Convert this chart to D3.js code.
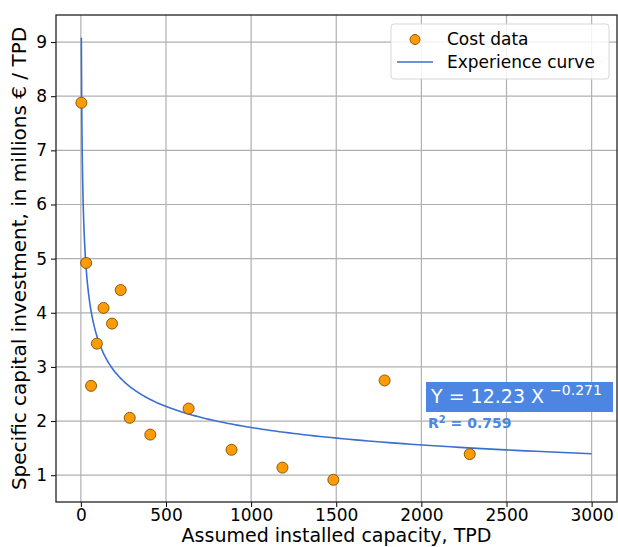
<!DOCTYPE html>
<html>
<head>
<meta charset="utf-8">
<script src="https://cdn.jsdelivr.net/npm/d3@7"></script>
<style>
  body { margin: 0; background: #fff; }
  svg text { font-family: "DejaVu Sans", sans-serif; fill: #000; }
</style>
</head>
<body>
<script>
// cost data points (capacity TPD, M€ / TPD)
const capacity = [3, 31, 60, 94, 133, 183, 234, 287, 408, 633, 885, 1184, 1483, 1784, 2284];
const cost = [7.88, 4.92, 2.65, 3.43, 4.09, 3.80, 4.42, 2.06, 1.75, 2.23, 1.47, 1.14, 0.915, 2.75, 1.39];

// fitted experience curve Y = a X^b
const fitA = 12.23;
const fitB = -0.271;
const fitR2 = 0.759;
const curveX = [3, 3000];

const xTicks = [0, 500, 1000, 1500, 2000, 2500, 3000];
const yTicks = [1, 2, 3, 4, 5, 6, 7, 8, 9];

const W = 618, H = 547;
const margin = {left: 56, right: 1, top: 15, bottom: 45};

const svg = d3.select("body").append("svg")
    .attr("width", W)
    .attr("height", H);

const x = d3.scaleLinear()
    .domain([-146, 3149])
    .range([margin.left, W - margin.right]);
const y = d3.scaleLinear()
    .domain([0.505, 9.50])
    .range([H - margin.bottom, margin.top]);

// grid
svg.append("g")
    .selectAll("line.vx")
    .data(xTicks)
    .enter().append("line")
    .attr("x1", d => x(d)).attr("x2", d => x(d))
    .attr("y1", margin.top).attr("y2", H - margin.bottom)
    .attr("stroke", "#b0b0b0").attr("stroke-width", 1.2);
svg.append("g")
    .selectAll("line.hy")
    .data(yTicks)
    .enter().append("line")
    .attr("y1", d => y(d)).attr("y2", d => y(d))
    .attr("x1", margin.left).attr("x2", W - margin.right)
    .attr("stroke", "#b0b0b0").attr("stroke-width", 1.2);

// axes
const xAxis = svg.append("g")
    .attr("transform", "translate(0," + (H - margin.bottom) + ")")
    .call(d3.axisBottom(x).tickValues(xTicks).tickFormat(d3.format("d")).tickSize(5).tickPadding(2));
const yAxis = svg.append("g")
    .attr("transform", "translate(" + margin.left + ",0)")
    .call(d3.axisLeft(y).tickValues(yTicks).tickFormat(d3.format("d")).tickSize(5).tickPadding(4));
[xAxis, yAxis].forEach(a => {
    a.select(".domain").remove();
    a.selectAll("text").style("font-size", "17px").attr("fill", "#000");
    a.selectAll("line").attr("stroke", "#000");
});

// frame
svg.append("rect")
    .attr("x", margin.left).attr("y", margin.top)
    .attr("width", W - margin.right - margin.left)
    .attr("height", H - margin.bottom - margin.top)
    .attr("fill", "none").attr("stroke", "#222").attr("stroke-width", 1.3);

// experience curve
const curvePts = d3.range(0, 301).map(i => {
    const t = i / 300;
    const xv = curveX[0] * Math.pow(curveX[1] / curveX[0], t);
    return [xv, fitA * Math.pow(xv, fitB)];
});
svg.append("path")
    .datum(curvePts)
    .attr("d", d3.line().x(d => x(d[0])).y(d => y(d[1])))
    .attr("fill", "none")
    .attr("stroke", "#3b6fcf")
    .attr("stroke-width", 1.6);

// points
svg.append("g")
    .selectAll("circle")
    .data(capacity.map((c, i) => [c, cost[i]]))
    .enter().append("circle")
    .attr("cx", d => x(d[0]))
    .attr("cy", d => y(d[1]))
    .attr("r", 5.5)
    .attr("fill", "#ff9b05")
    .attr("stroke", "#7a4e00")
    .attr("stroke-width", 0.9);

// annotation box
const ann = svg.append("g");
ann.append("rect")
    .attr("x", 426).attr("y", 382)
    .attr("width", 187).attr("height", 30)
    .attr("fill", "#4d86e2");
const eq = ann.append("text")
    .attr("x", 431).attr("y", 403)
    .style("font-size", "19px")
    .style("fill", "#fff");
eq.append("tspan").text("Y = " + fitA.toFixed(2) + " X ");
eq.append("tspan")
    .attr("dy", -8)
    .style("font-size", "14px")
    .text("\u2212" + Math.abs(fitB).toFixed(3));

const r2 = ann.append("text")
    .attr("x", 428).attr("y", 428)
    .style("font-size", "14px")
    .style("font-weight", "bold")
    .style("fill", "#4d86e2");
r2.append("tspan").text("R");
r2.append("tspan").attr("dy", -5).style("font-size", "10px").text("2");
r2.append("tspan").attr("dy", 5).text(" = " + fitR2.toFixed(3));

// legend
const lg = svg.append("g");
lg.append("rect")
    .attr("x", 391).attr("y", 24)
    .attr("width", 218).attr("height", 55)
    .attr("rx", 3)
    .attr("fill", "#fff").attr("fill-opacity", 0.85)
    .attr("stroke", "#d6d6d6");
lg.append("circle")
    .attr("cx", 415).attr("cy", 39.5).attr("r", 5)
    .attr("fill", "#ff9b05").attr("stroke", "#7a4e00").attr("stroke-width", 0.9);
lg.append("line")
    .attr("x1", 397).attr("x2", 433).attr("y1", 62).attr("y2", 62)
    .attr("stroke", "#3b6fcf").attr("stroke-width", 1.6);
lg.append("text").attr("x", 447).attr("y", 45).style("font-size", "17px").text("Cost data");
lg.append("text").attr("x", 447).attr("y", 68).style("font-size", "17px").text("Experience curve");

// axis titles
svg.append("text")
    .attr("x", (margin.left + W - margin.right) / 2)
    .attr("y", 542)
    .attr("text-anchor", "middle")
    .style("font-size", "19px")
    .text("Assumed installed capacity, TPD");
svg.append("text")
    .attr("transform", "translate(26," + ((margin.top + H - margin.bottom) / 2) + ") rotate(-90)")
    .attr("text-anchor", "middle")
    .style("font-size", "20px")
    .text("Specific capital investment, in millions \u20ac / TPD");
</script>
</body>
</html>
